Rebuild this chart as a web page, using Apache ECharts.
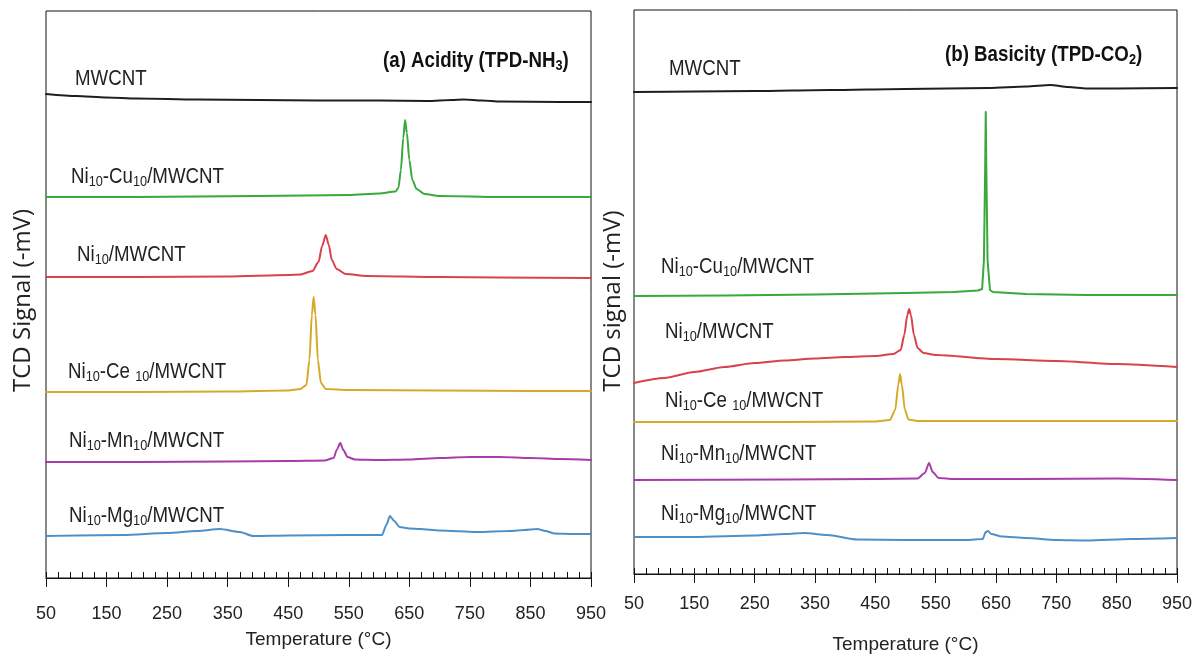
<!DOCTYPE html>
<html><head><meta charset="utf-8">
<script src="https://cdn.jsdelivr.net/npm/echarts@6/dist/echarts.min.js"></script>
<style>html,body{margin:0;padding:0;background:#fff}#c{width:1196px;height:661px}</style>
</head><body><div id="c"></div>
<script>
// ---------- DATA: panel (a) Acidity TPD-NH3 (signal in arbitrary units) ----------
const a_MWCNT_T = [50,100,150,200,300,400,500,600,680,720,740,770,800,900,950];
const a_MWCNT_V = [484,482,480.5,479.5,478.5,478,477.5,477.5,477,478,478.5,477.5,476.5,476,476];
const a_Cu_T = [50,200,400,550,600,627,632,636,640,643,646,650,655,662,675,700,800,950];
const a_Cu_V = [381,381,382,383,384.5,386.5,390,408,440,458,445,418,398,389,384,382,381,381];
const a_Ni_T = [50,200,350,450,470,490,500,506,512,517,522,530,545,580,700,800,950];
const a_Ni_V = [301,301,301.5,303,303.5,307,316,332,343,333,318,309,304,302,301,300.5,300];
const a_Ce_T = [50,200,350,450,470,480,485,489,492,495,499,504,512,550,700,850,950];
const a_Ce_V = [186,186,186.5,187.5,189,193,218,263,281,263,218,195,189,188,187.5,187,187];
const a_Mn_T = [50,200,350,450,510,525,530,536,541,548,560,600,650,700,750,800,850,900,950];
const a_Mn_V = [116,116,116.5,117,117.5,120,128,135,128,121,118.5,118,118.5,120,121,121,120,119,118];
const a_Mg_T = [50,100,177,250,300,337,370,392,450,550,605,612,618,625,634,650,668,700,762,816,840,861,875,890,920,950];
const a_Mg_V = [42,42.5,43,45,47,49,46,42,42.5,43,43,53,62,57,51,49.5,49,47.5,46,47,48,49,47,44.5,44,44];

// ---------- DATA: panel (b) Basicity TPD-CO2 ----------
const b_MWCNT_T = [50,150,250,374,500,638,700,740,770,800,850,950];
const b_MWCNT_V = [482,482.5,483,484,485,486,487.5,489,487,485.5,485.5,486];
const b_Cu_T = [50,200,350,500,580,620,627,630,632,633,634,636,640,645,700,800,950];
const b_Cu_V = [278,278.5,279.5,281,282,283.5,285,314,404,462,404,314,284,282,280,279,279];
const b_Ni_T = [50,100,150,200,250,300,350,400,450,480,492,498,503,506,509,514,520,530,550,650,750,850,950];
const b_Ni_V = [191,196,202,207,211,213.5,215.5,217,218,220,224,239,259,265,259,239,226,221,219,215,213,210,207];
const b_Ce_T = [50,300,450,474,483,488,491,494,499,505,520,700,950];
const b_Ce_V = [152,152,152.5,154,164,189,200,189,164,154.5,153,153,153];
const b_Mn_T = [50,300,450,520,532,539,545,555,580,700,850,950];
const b_Mn_V = [94,94.5,95,95.5,101,111,102,96,95,95,95.5,94];
const b_Mg_T = [50,150,250,300,332,370,420,500,600,628,633,637,642,660,700,750,800,875,950];
const b_Mg_V = [37,37,38.5,40,41,39,34.5,34,34,35,42,43,40,37.5,36,34,33.5,35,36];

// ---------- TEXT ----------
const seriesLabelsA = ['MWCNT','Ni{s|10}-Cu{s|10}/MWCNT','Ni{s|10}/MWCNT','Ni{s|10}-Ce {s|10}/MWCNT','Ni{s|10}-Mn{s|10}/MWCNT','Ni{s|10}-Mg{s|10}/MWCNT'];
const seriesLabelsB = seriesLabelsA.slice();
const titleA = '(a) Acidity (TPD-NH{s|3})';
const titleB = '(b) Basicity (TPD-CO{s|2})';
const xName = 'Temperature (°C)';
const yNameA = 'TCD Signal (-mV)';
const yNameB = 'TCD signal (-mV)';
const xMin = 50, xMax = 950, xStep = 100, xMinorStep = 20;

const colors = ['#1e1e1e','#3aa83a','#d9414c','#d4aa2a','#a83ca8','#4f8fc8'];
const smoothA = [0.25,0.25,0.25,0.25,0.25,0.25];
const smoothB = [0.25,false,0.25,0.25,0.25,0.25];
const FN = '"Liberation Sans",Arial,sans-serif';
const FY = '"Open Sans","DejaVu Sans",sans-serif';

function pairs(T, V){ return T.map((t,i)=>[t, V[i]]); }
const setsA = [[a_MWCNT_T,a_MWCNT_V],[a_Cu_T,a_Cu_V],[a_Ni_T,a_Ni_V],[a_Ce_T,a_Ce_V],[a_Mn_T,a_Mn_V],[a_Mg_T,a_Mg_V]];
const setsB = [[b_MWCNT_T,b_MWCNT_V],[b_Cu_T,b_Cu_V],[b_Ni_T,b_Ni_V],[b_Ce_T,b_Ce_V],[b_Mn_T,b_Mn_V],[b_Mg_T,b_Mg_V]];

function mkSeries(sets, xi, yi, sm){
  return sets.map((s,k)=>({
    type:'line', xAxisIndex:xi, yAxisIndex:yi, data:pairs(s[0],s[1]),
    showSymbol:false, smooth:sm[k], smoothMonotone:'x',
    lineStyle:{color:colors[k], width:2, join:'round', cap:'round'}, itemStyle:{color:colors[k]}, silent:true
  }));
}

function mainX(grid, margin, gap){
  return {gridIndex:grid, type:'value', min:xMin, max:xMax, interval:xStep, position:'bottom',
    axisLine:{show:true, onZero:false, lineStyle:{color:'#111', width:1}},
    axisTick:{show:true, inside:false, length:9, lineStyle:{color:'#111', width:1}},
    axisLabel:{show:true, margin:margin, fontSize:18, fontFamily:FN, color:'#222', showMinLabel:true, showMaxLabel:true},
    splitLine:{show:false},
    name:xName, nameLocation:'middle', nameGap:gap,
    nameTextStyle:{fontSize:19, fontFamily:FN, color:'#222'}};
}
function minorX(grid){
  return {gridIndex:grid, type:'value', min:xMin, max:xMax, interval:xMinorStep, position:'bottom',
    axisLine:{show:false}, axisTick:{show:true, inside:true, length:6, lineStyle:{color:'#111', width:1}},
    axisLabel:{show:false}, splitLine:{show:false}};
}
function mkY(grid, max, name, gap, shift){
  return {gridIndex:grid, type:'value', min:0, max:max,
    axisLine:{show:false}, axisTick:{show:false}, axisLabel:{show:false}, splitLine:{show:false},
    name:name, nameLocation:'middle', nameGap:gap, nameRotate:90,
    nameTextStyle:{fontSize:24, fontFamily:FY, color:'#222', padding:[0,shift,0,0]}};
}

const rich = {
  s:{fontSize:15, lineHeight:15, fontFamily:FN, verticalAlign:'bottom', fill:'#222'}
};
const richB = {
  s:{fontSize:15, lineHeight:15, fontFamily:FN, fontWeight:'bold', verticalAlign:'bottom', fill:'#111'}
};
function txt(text, x, y, bold){
  return {type:'text', x:x, y:y, scaleX:0.85, silent:true,
    style:{text:text, fontSize:22, lineHeight:24, fontFamily:FN, fontWeight: bold?'bold':'normal',
      fill: bold?'#111':'#222', align:'left', verticalAlign:'middle', rich: bold?richB:rich}};
}

const labelPosA = [[75,79],[71,177],[77,255],[68,372],[69,441],[69,516]];
const labelPosB = [[669,69],[661,267],[665,332],[665,401],[661,454],[661,514]];

const graphics = [];
seriesLabelsA.forEach((t,i)=>graphics.push(txt(t, labelPosA[i][0], labelPosA[i][1], false)));
seriesLabelsB.forEach((t,i)=>graphics.push(txt(t, labelPosB[i][0], labelPosB[i][1], false)));
graphics.push(txt(titleA, 383, 61, true));
graphics.push(txt(titleB, 945, 55, true));

const chart = echarts.init(document.getElementById('c'), null, {renderer:'canvas'});
chart.setOption({
  animation:false,
  backgroundColor:'#fff',
  grid:[
    {left:46, top:11, width:545, height:567, show:true, borderColor:'#111', borderWidth:1, containLabel:false},
    {left:634, top:10, width:543, height:564, show:true, borderColor:'#111', borderWidth:1, containLabel:false}
  ],
  xAxis:[ mainX(0, 27, 52), minorX(0), mainX(1, 21, 61), minorX(1) ],
  yAxis:[ mkY(0, 567, yNameA, 11, 12), mkY(1, 564, yNameB, 9, 18) ],
  series:[].concat(mkSeries(setsA, 0, 0, smoothA), mkSeries(setsB, 2, 1, smoothB)),
  graphic:graphics
});
</script></body></html>
